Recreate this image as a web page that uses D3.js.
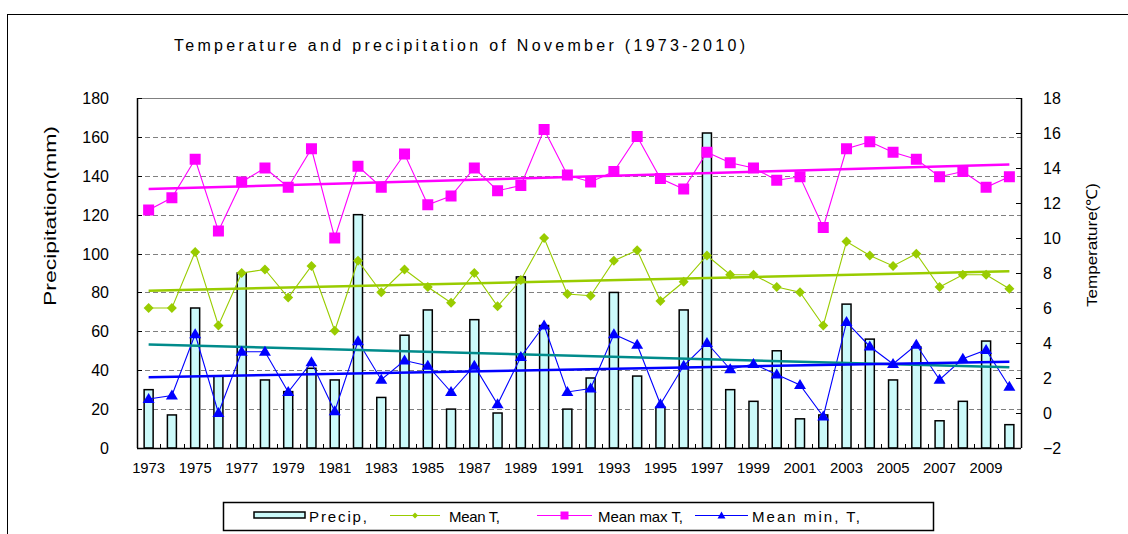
<!DOCTYPE html>
<html>
<head>
<meta charset="utf-8">
<script src="https://cdn.jsdelivr.net/npm/d3@7/dist/d3.min.js"></script>
<style>
	body { margin: 0; background: #ffffff; }
	svg { display: block; font-family: "Liberation Sans", Arial, sans-serif; }
</style>
</head>
<body>
<svg id="chart" width="1128" height="534"></svg>
<script>
const years = [1973, 1974, 1975, 1976, 1977, 1978, 1979, 1980, 1981, 1982,
	1983, 1984, 1985, 1986, 1987, 1988, 1989, 1990, 1991, 1992,
	1993, 1994, 1995, 1996, 1997, 1998, 1999, 2000, 2001, 2002,
	2003, 2004, 2005, 2006, 2007, 2008, 2009, 2010];
const precip = [30, 17, 72, 37, 90, 35, 29, 41, 35, 120,
	26, 58, 71, 20, 66, 18, 88, 63, 20, 36,
	80, 37, 21, 71, 162, 30, 24, 50, 15, 17,
	74, 56, 35, 52, 14, 24, 55, 12];
const meanT = [6.0, 6.0, 9.2, 5.0, 8.0, 8.2, 6.6, 8.4, 4.7, 8.7,
	6.9, 8.2, 7.2, 6.3, 8.0, 6.1, 7.6, 10.0, 6.8, 6.7,
	8.7, 9.3, 6.4, 7.5, 9.0, 7.9, 7.9, 7.2, 6.9, 5.0,
	9.8, 9.0, 8.4, 9.1, 7.2, 7.9, 7.9, 7.1];
const maxT = [11.6, 12.3, 14.5, 10.4, 13.2, 14.0, 12.9, 15.1, 10.0, 14.1,
	12.9, 14.8, 11.9, 12.4, 14.0, 12.7, 13.0, 16.2, 13.6, 13.2,
	13.8, 15.8, 13.4, 12.8, 14.9, 14.3, 14.0, 13.3, 13.5, 10.6,
	15.1, 15.5, 14.9, 14.5, 13.5, 13.8, 12.9, 13.5];
const minT = [0.8, 1.0, 4.5, 0.0, 3.5, 3.5, 1.2, 2.9, 0.1, 4.1,
	1.9, 3.0, 2.7, 1.2, 2.7, 0.5, 3.2, 5.0, 1.2, 1.4,
	4.5, 3.9, 0.5, 2.7, 4.0, 2.5, 2.8, 2.2, 1.6, -0.2,
	5.2, 3.8, 2.8, 3.9, 1.9, 3.1, 3.6, 1.5];
const leftTicks = [0, 20, 40, 60, 80, 100, 120, 140, 160, 180];
const rightTicks = [-2, 0, 2, 4, 6, 8, 10, 12, 14, 16, 18];
const yearLabels = [1973, 1975, 1977, 1979, 1981, 1983, 1985, 1987, 1989, 1991,
	1993, 1995, 1997, 1999, 2001, 2003, 2005, 2007, 2009];

const colPrecip = '#ccfafa';
const colMean = '#99cc00';
const colMax = '#ff00ff';
const colMin = '#0000ff';
const colPrecipTrend = '#008b8b';

const svg = d3.select('#chart');

const plot = { left: 137, right: 1021, top: 98, bottom: 448 };

const x = d3.scaleBand()
	.domain(years)
	.range([plot.left, plot.right]);

const yLeft = d3.scaleLinear()
	.domain([0, 180])
	.range([plot.bottom, plot.top]);

const yRight = d3.scaleLinear()
	.domain([-2, 18])
	.range([plot.bottom, plot.top]);

const cx = function(d){ return x(d) + x.bandwidth() / 2; };

// outer frame
svg.append('rect')
	.attr('x', 7.5).attr('y', 14.5)
	.attr('width', 1200).attr('height', 600)
	.attr('fill', 'none')
	.attr('stroke', '#000000')
	.attr('stroke-width', 1);

svg.append('text')
	.attr('x', 174)
	.attr('y', 51)
	.attr('font-size', 16)
	.attr('textLength', 571)
	.attr('lengthAdjust', 'spacing')
	.text('Temperature  and  precipitation  of  November  (1973-2010)');

// grid lines
svg.append('g')
	.selectAll('line')
	.data(leftTicks.filter(function(d){ return d > 0 && d < 180; }))
	.join('line')
	.attr('x1', plot.left).attr('x2', plot.right)
	.attr('y1', function(d){ return Math.round(yLeft(d)) + 0.5; })
	.attr('y2', function(d){ return Math.round(yLeft(d)) + 0.5; })
	.attr('stroke', '#808080')
	.attr('stroke-dasharray', '5,3');

// top frame of the plot
svg.append('line')
	.attr('x1', plot.left).attr('x2', plot.right)
	.attr('y1', plot.top + 0.5).attr('y2', plot.top + 0.5)
	.attr('stroke', '#808080');

// bars
svg.append('g')
	.selectAll('rect')
	.data(years)
	.join('rect')
	.attr('x', function(d){ return cx(d) - 4.5; })
	.attr('y', function(d, i){ return yLeft(precip[i]); })
	.attr('width', 9)
	.attr('height', function(d, i){ return plot.bottom - yLeft(precip[i]); })
	.attr('fill', colPrecip)
	.attr('stroke', '#000000')
	.attr('stroke-width', 1.5);

// linear trend lines (least squares fit of each series)
function trend(values, scale, color, width){
	const n = values.length;
	const mx = d3.mean(d3.range(n));
	const my = d3.mean(values);
	let sxy = 0, sxx = 0;
	values.forEach(function(v, i){
		sxy += (i - mx) * (v - my);
		sxx += (i - mx) * (i - mx);
	});
	const b = sxy / sxx;
	const a = my - b * mx;
	svg.append('line')
		.attr('x1', cx(years[0])).attr('x2', cx(years[n - 1]))
		.attr('y1', scale(a)).attr('y2', scale(a + b * (n - 1)))
		.attr('stroke', color)
		.attr('stroke-width', width);
}

// series lines
function series(values, color){
	svg.append('path')
		.datum(values)
		.attr('fill', 'none')
		.attr('stroke', color)
		.attr('stroke-width', 1.1)
		.attr('d', d3.line()
			.x(function(d, i){ return cx(years[i]); })
			.y(function(d){ return yRight(d); }));
}

series(maxT, colMax);
series(meanT, colMean);
series(minT, colMin);

trend(maxT, yRight, colMax, 2.5);
trend(meanT, yRight, colMean, 2.5);
trend(precip, yLeft, colPrecipTrend, 2.5);
trend(minT, yRight, colMin, 2.5);

// markers
svg.append('g')
	.selectAll('rect')
	.data(maxT)
	.join('rect')
	.attr('x', function(d, i){ return cx(years[i]) - 5.5; })
	.attr('y', function(d){ return yRight(d) - 5.5; })
	.attr('width', 11).attr('height', 11)
	.attr('fill', colMax);

svg.append('g')
	.selectAll('path')
	.data(meanT)
	.join('path')
	.attr('transform', function(d, i){ return 'translate(' + cx(years[i]) + ',' + yRight(d) + ')'; })
	.attr('d', 'M0,-5L5,0L0,5L-5,0Z')
	.attr('fill', colMean);

svg.append('g')
	.selectAll('path')
	.data(minT)
	.join('path')
	.attr('transform', function(d, i){ return 'translate(' + cx(years[i]) + ',' + yRight(d) + ')'; })
	.attr('d', 'M0,-6L6,4L-6,4Z')
	.attr('fill', colMin);

// axes lines
svg.append('line')
	.attr('x1', plot.left + 0.5).attr('x2', plot.left + 0.5)
	.attr('y1', plot.top).attr('y2', plot.bottom)
	.attr('stroke', '#000000').attr('stroke-width', 1.5);
svg.append('line')
	.attr('x1', plot.right + 0.5).attr('x2', plot.right + 0.5)
	.attr('y1', plot.top).attr('y2', plot.bottom)
	.attr('stroke', '#000000').attr('stroke-width', 1.5);
svg.append('line')
	.attr('x1', plot.left).attr('x2', plot.right)
	.attr('y1', plot.bottom + 0.5).attr('y2', plot.bottom + 0.5)
	.attr('stroke', '#000000').attr('stroke-width', 1.5);

// left ticks & labels
svg.append('g')
	.selectAll('line')
	.data(leftTicks)
	.join('line')
	.attr('x1', plot.left).attr('x2', plot.left + 5)
	.attr('y1', function(d){ return Math.round(yLeft(d)) + 0.5; })
	.attr('y2', function(d){ return Math.round(yLeft(d)) + 0.5; })
	.attr('stroke', '#000000');

svg.append('g')
	.selectAll('text')
	.data(leftTicks)
	.join('text')
	.attr('x', 109)
	.attr('y', function(d){ return yLeft(d) + 6; })
	.attr('text-anchor', 'end')
	.attr('font-size', 16)
	.text(function(d){ return d; });

// right ticks & labels
svg.append('g')
	.selectAll('line')
	.data(rightTicks)
	.join('line')
	.attr('x1', plot.right - 5).attr('x2', plot.right)
	.attr('y1', function(d){ return Math.round(yRight(d)) + 0.5; })
	.attr('y2', function(d){ return Math.round(yRight(d)) + 0.5; })
	.attr('stroke', '#000000');

svg.append('g')
	.selectAll('text')
	.data(rightTicks)
	.join('text')
	.attr('x', 1043)
	.attr('y', function(d){ return yRight(d) + 6; })
	.attr('font-size', 16)
	.text(function(d){ return d < 0 ? '\u2212' + Math.abs(d) : d; });

// x ticks (between categories) & labels
svg.append('g')
	.selectAll('line')
	.data(years.slice(1))
	.join('line')
	.attr('x1', function(d){ return Math.round(x(d)) + 0.5; })
	.attr('x2', function(d){ return Math.round(x(d)) + 0.5; })
	.attr('y1', plot.bottom - 4).attr('y2', plot.bottom)
	.attr('stroke', '#000000');

svg.append('g')
	.selectAll('text')
	.data(yearLabels)
	.join('text')
	.attr('x', function(d){ return cx(d); })
	.attr('y', 473)
	.attr('text-anchor', 'middle')
	.attr('font-size', 15)
	.attr('textLength', 33)
	.attr('lengthAdjust', 'spacingAndGlyphs')
	.text(function(d){ return d; });

// axis titles
svg.append('text')
	.attr('transform', 'translate(56,216) rotate(-90)')
	.attr('text-anchor', 'middle')
	.attr('font-size', 16)
	.attr('textLength', 180)
	.attr('lengthAdjust', 'spacingAndGlyphs')
	.text('Precipitation(mm)');

svg.append('text')
	.attr('transform', 'translate(1097,245) rotate(-90)')
	.attr('text-anchor', 'middle')
	.attr('font-size', 15)
	.attr('textLength', 124)
	.attr('lengthAdjust', 'spacingAndGlyphs')
	.text('Temperature(\u2103)');

// legend
const legend = svg.append('g');
legend.append('rect')
	.attr('x', 223.5).attr('y', 502.5)
	.attr('width', 710).attr('height', 28)
	.attr('fill', '#ffffff')
	.attr('stroke', '#000000')
	.attr('stroke-width', 1.5);

legend.append('rect')
	.attr('x', 254).attr('y', 512)
	.attr('width', 51).attr('height', 6)
	.attr('fill', colPrecip)
	.attr('stroke', '#000000')
	.attr('stroke-width', 1.5);

legend.append('text')
	.attr('x', 309).attr('y', 522)
	.attr('font-size', 15)
	.attr('textLength', 58)
	.attr('lengthAdjust', 'spacing')
	.text('Precip,');

const legendItems = [
	{ x1: 390, x2: 440, tx: 449, len: 51, color: colMean, label: 'Mean T,', shape: 'M0,-3L3,0L0,3L-3,0Z' },
	{ x1: 537, x2: 592, tx: 598, len: 85, color: colMax, label: 'Mean max T,', shape: 'M-4,-4H4V4H-4Z' },
	{ x1: 695, x2: 748, tx: 752, len: 108, color: colMin, label: 'Mean min, T,', shape: 'M0,-4L4,3L-4,3Z' }
];

legendItems.forEach(function(item){
	legend.append('line')
		.attr('x1', item.x1).attr('x2', item.x2)
		.attr('y1', 515.5).attr('y2', 515.5)
		.attr('stroke', item.color).attr('stroke-width', 1.2);
	legend.append('path')
		.attr('transform', 'translate(' + ((item.x1 + item.x2) / 2) + ',515.5)')
		.attr('d', item.shape)
		.attr('fill', item.color);
	legend.append('text')
		.attr('x', item.tx).attr('y', 522)
		.attr('font-size', 15)
		.attr('textLength', item.len)
		.attr('lengthAdjust', 'spacing')
		.text(item.label);
});
</script>
</body>
</html>
